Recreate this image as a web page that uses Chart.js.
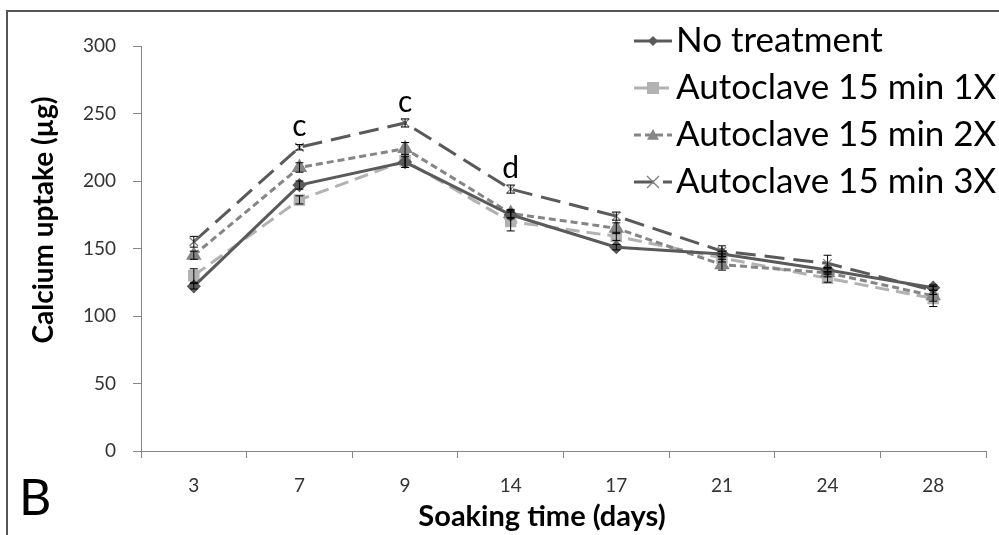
<!DOCTYPE html>
<html>
<head>
<meta charset="utf-8">
<script src="https://cdn.jsdelivr.net/npm/chart.js@4/dist/chart.umd.min.js"></script>
<style>
  html, body { margin: 0; padding: 0; background: #fff; }
  #wrap { width: 999px; height: 535px; position: relative; }
</style>
</head>
<body>
<div id="wrap"><canvas id="calcium"></canvas></div>
<script>
const soakingDays = ['3', '7', '9', '14', '17', '21', '24', '28'];

const noTreatment = [122, 197, 214, 175, 151, 146, 134, 121];
const autoclave1X = [130, 186, 215, 170, 159, 143, 128, 113];
const autoclave2X = [145, 210, 224, 176, 165, 138, 132, 115];
const autoclave3X = [155, 225, 243, 194, 174, 148, 139, 119];

// standard errors
const errNoTreatment = [2, 3, 4, 3, 2, 2, 2, 2];
const err1X = [5, 3, 5, 7, 3, 3, 3, 6];
const err2X = [3, 3.5, 4.5, 3, 4, 4, 3, 4];
const err3X = [4, 2, 3, 3, 3, 4, 6, 3];

const letters3X = ['', 'c', 'c', 'd', '', '', '', ''];

const yTicks = [0, 50, 100, 150, 200, 250, 300];

const FONT = 'Lato, "Open Sans", sans-serif';

function drawMarker(ctx, style, x, y, r, color) {
  ctx.save();
  ctx.fillStyle = color;
  ctx.strokeStyle = color;
  ctx.setLineDash([]);
  ctx.beginPath();
  if (style === 'rectRot') {
    ctx.moveTo(x, y - r); ctx.lineTo(x + r, y); ctx.lineTo(x, y + r); ctx.lineTo(x - r, y);
    ctx.closePath(); ctx.fill();
  } else if (style === 'rect') {
    ctx.rect(x - r, y - r, 2 * r, 2 * r); ctx.fill();
  } else if (style === 'triangle') {
    ctx.moveTo(x, y - r); ctx.lineTo(x + r, y + r * 0.8); ctx.lineTo(x - r, y + r * 0.8);
    ctx.closePath(); ctx.fill();
  } else if (style === 'crossRot') {
    ctx.lineWidth = 1.2;
    ctx.moveTo(x - r, y - r); ctx.lineTo(x + r, y + r);
    ctx.moveTo(x + r, y - r); ctx.lineTo(x - r, y + r);
    ctx.stroke();
  }
  ctx.restore();
}

const errorBars = {
  id: 'errorBars',
  afterDatasetsDraw(chart) {
    const ctx = chart.ctx;
    const y = chart.scales.y;
    ctx.save();
    ctx.strokeStyle = '#000';
    ctx.lineWidth = 1;
    chart.data.datasets.forEach((ds, i) => {
      const meta = chart.getDatasetMeta(i);
      meta.data.forEach((pt, j) => {
        const e = ds.errors[j];
        if (!e) return;
        const top = y.getPixelForValue(ds.data[j] + e);
        const bot = y.getPixelForValue(ds.data[j] - e);
        ctx.beginPath();
        ctx.moveTo(pt.x, top); ctx.lineTo(pt.x, bot);
        ctx.moveTo(pt.x - 4, top); ctx.lineTo(pt.x + 4, top);
        ctx.moveTo(pt.x - 4, bot); ctx.lineTo(pt.x + 4, bot);
        ctx.stroke();
      });
    });
    ctx.restore();
  }
};

const decorations = {
  id: 'decorations',
  beforeDraw(chart) {
    const ctx = chart.ctx;
    ctx.save();
    ctx.strokeStyle = '#555';
    ctx.lineWidth = 2;
    ctx.beginPath();
    ctx.moveTo(7, 535); ctx.lineTo(7, 11); ctx.lineTo(999, 11);
    ctx.stroke();
    ctx.restore();
  },
  afterDraw(chart) {
    const ctx = chart.ctx;
    ctx.save();
    ctx.fillStyle = '#000';

    // axis titles
    ctx.font = 'bold 29px ' + FONT;
    ctx.textAlign = 'center';
    ctx.textBaseline = 'middle';
    ctx.fillText('Soaking time (days)', 542, 517);
    ctx.font = 'bold 28px ' + FONT;
    ctx.save();
    ctx.translate(44, 220);
    ctx.rotate(-Math.PI / 2);
    ctx.fillText('Calcium uptake (\u00b5g)', 0, 0);
    ctx.restore();

    // panel letter
    ctx.font = '50px ' + FONT;
    ctx.textAlign = 'left';
    ctx.textBaseline = 'alphabetic';
    ctx.fillText('B', 19, 515);

    // significance letters above the 3X series
    const meta3 = chart.getDatasetMeta(3);
    ctx.font = '30px ' + FONT;
    ctx.textAlign = 'center';
    meta3.data.forEach((pt, j) => {
      if (letters3X[j]) ctx.fillText(letters3X[j], pt.x, pt.y - 11);
    });

    // legend
    ctx.font = '35px ' + FONT;
    ctx.textBaseline = 'middle';
    chart.data.datasets.forEach((ds, i) => {
      const ly = 41 + i * 47;
      ctx.save();
      ctx.strokeStyle = ds.borderColor;
      ctx.lineWidth = 3;
      ctx.setLineDash(ds.borderDash || []);
      ctx.beginPath();
      ctx.moveTo(634, ly); ctx.lineTo(672, ly);
      ctx.stroke();
      ctx.restore();
      drawMarker(ctx, ds.pointStyle, 653, ly, ds.pointRadius, ds.pointBackgroundColor);
      ctx.fillStyle = '#000';
      ctx.textAlign = 'left';
      ctx.fillText(ds.label, 676, ly);
    });
    ctx.restore();
  }
};

new Chart(document.getElementById('calcium'), {
  type: 'line',
  data: {
    labels: soakingDays,
    datasets: [
      {
        label: 'No treatment',
        data: noTreatment,
        errors: errNoTreatment,
        borderColor: '#5a5a5a',
        borderWidth: 3,
        pointStyle: 'rectRot',
        pointRadius: 5,
        pointBackgroundColor: '#5a5a5a',
        pointBorderColor: '#5a5a5a',
        order: 1
      },
      {
        label: 'Autoclave 15 min 1X',
        data: autoclave1X,
        errors: err1X,
        borderColor: '#b2b2b2',
        borderWidth: 3,
        borderDash: [14, 7],
        pointStyle: 'rect',
        pointRadius: 6,
        pointBackgroundColor: '#b2b2b2',
        pointBorderColor: '#b2b2b2',
        order: 4
      },
      {
        label: 'Autoclave 15 min 2X',
        data: autoclave2X,
        errors: err2X,
        borderColor: '#858585',
        borderWidth: 3,
        borderDash: [7, 4],
        pointStyle: 'triangle',
        pointRadius: 6,
        pointBackgroundColor: '#858585',
        pointBorderColor: '#858585',
        order: 3
      },
      {
        label: 'Autoclave 15 min 3X',
        data: autoclave3X,
        errors: err3X,
        borderColor: '#5a5a5a',
        borderWidth: 3,
        borderDash: [20, 9],
        pointStyle: 'crossRot',
        pointRadius: 6,
        pointBackgroundColor: '#7a7a7a',
        pointBorderColor: '#7a7a7a',
        pointBorderWidth: 1.2,
        order: 2
      }
    ]
  },
  options: {
    responsive: true,
    maintainAspectRatio: false,
    animation: false,
    layout: { padding: { left: 0, top: 46, right: 13, bottom: 0 } },
    plugins: {
      legend: { display: false },
      tooltip: { enabled: false }
    },
    elements: { line: { tension: 0 } },
    scales: {
      x: {
        type: 'category',
        offset: true,
        grid: { offset: true, drawOnChartArea: false, tickLength: 7, color: '#868686' },
        border: { color: '#868686', width: 1 },
        ticks: { color: '#333', font: { family: FONT, size: 19 }, padding: 16, maxRotation: 0 },
        afterFit(scale) { scale.height = 84; }
      },
      y: {
        min: 0,
        max: 300,
        afterBuildTicks(scale) { scale.ticks = yTicks.map(v => ({ value: v })); },
        grid: { drawOnChartArea: false, tickLength: 8, color: '#868686' },
        border: { color: '#868686', width: 1 },
        ticks: { color: '#333', font: { family: FONT, size: 19 }, padding: 17 },
        afterFit(scale) { scale.width = 141; }
      }
    }
  },
  plugins: [errorBars, decorations]
});
</script>
</body>
</html>
